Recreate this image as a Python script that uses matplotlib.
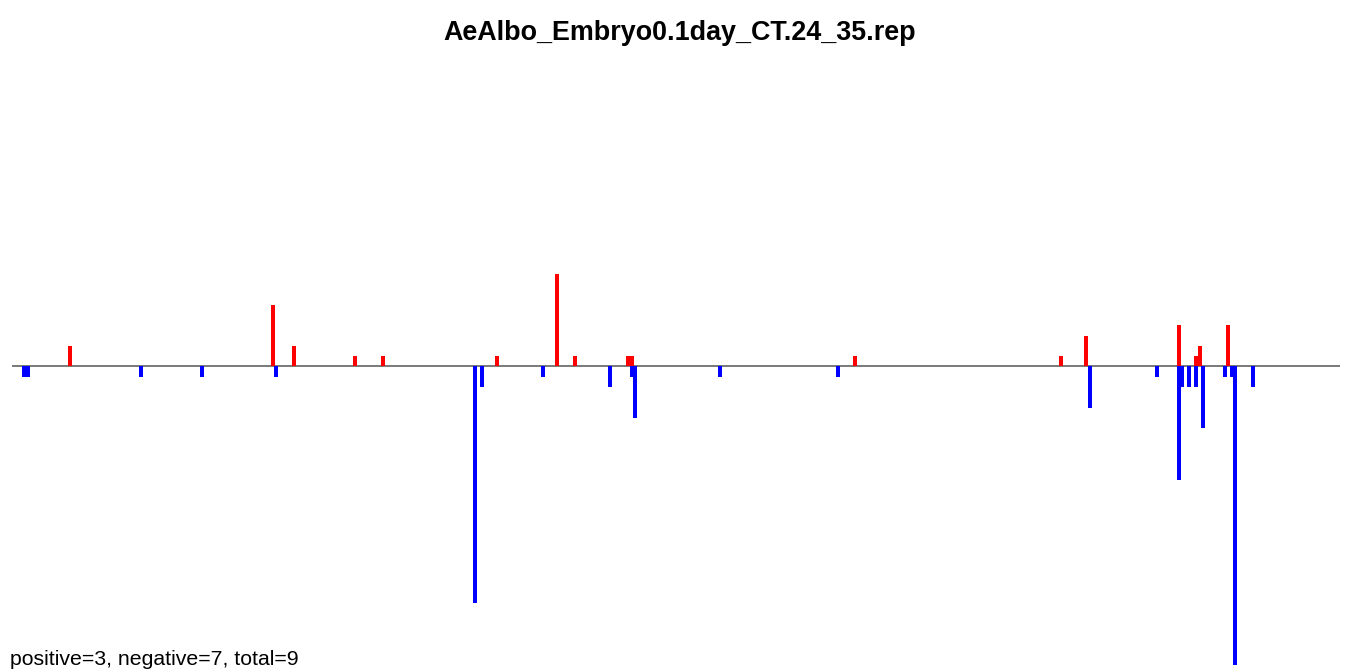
import matplotlib
matplotlib.use("Agg")
import matplotlib.pyplot as plt

title = "AeAlbo_Embryo0.1day_CT.24_35.rep"
footer = "positive=3, negative=7, total=9"

# positive (red) bars: position, count
pos_x = [70, 273, 294, 355, 383, 497, 557, 575, 628, 632, 855, 1061, 1086, 1179, 1196, 1200, 1228]
pos_h = [2, 6, 2, 1, 1, 1, 9, 1, 1, 1, 1, 1, 3, 4, 1, 2, 4]

# negative (blue) bars: position, count
neg_x = [24, 28, 141, 202, 276, 475, 482, 543, 610, 632, 635, 720, 838, 1090, 1157,
         1179, 1182, 1189, 1196, 1203, 1225, 1232, 1235, 1253]
neg_h = [1, 1, 1, 1, 1, 23, 2, 1, 2, 1, 5, 1, 1, 4, 1,
         11, 2, 2, 2, 6, 1, 1, 29, 2]

W, H = 1349, 671
fig = plt.figure(figsize=(W / 100, H / 100), dpi=100)
unit = 10.29
y0 = 366.5
ax = fig.add_axes([12 / W, 0, 1328 / W, 1])
ax.set_xlim(12, 1340)
ax.set_ylim(-(H - y0) / unit, y0 / unit)
ax.axis("off")

ax.axhline(0, color="#6e6e6e", lw=1.3, zorder=1)
ax.bar(pos_x, pos_h, width=4, color="#ff0000", linewidth=0, zorder=2)
ax.bar(neg_x, [-h for h in neg_h], width=4, color="#0000ff", linewidth=0, zorder=3)

fig.text(680 / W, 1 - 33.5 / H, title, ha="center", va="center",
         fontweight="bold", family="Liberation Sans", fontsize=19.4)
fig.text(10 / W, 1 - 665 / H, footer, ha="left", va="baseline",
         family="Liberation Sans", fontsize=15.3)

fig.savefig("out.png", dpi=100)
